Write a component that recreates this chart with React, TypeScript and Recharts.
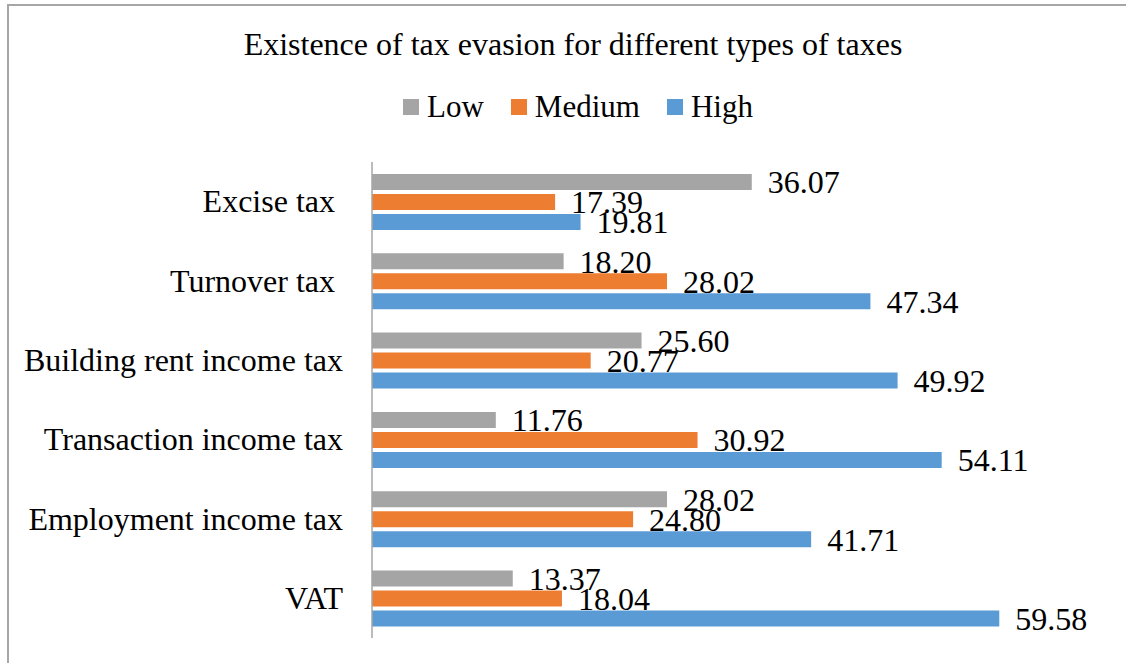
import React from 'react';
import { BarChart, Bar, XAxis, YAxis, LabelList } from 'recharts';

const categories = ['Excise tax ', 'Turnover tax ', 'Building rent income tax', 'Transaction income tax', 'Employment income tax', 'VAT'];
const lowValues = [36.07, 18.2, 25.6, 11.76, 28.02, 13.37];
const mediumValues = [17.39, 28.02, 20.77, 30.92, 24.8, 18.04];
const highValues = [19.81, 47.34, 49.92, 54.11, 41.71, 59.58];

const series = [
    { key: 'low', label: 'Low', color: '#A5A5A5' },
    { key: 'medium', label: 'Medium', color: '#ED7D31' },
    { key: 'high', label: 'High', color: '#5B9BD5' },
];

const data = categories.map((name, i) => ({
    name,
    low: lowValues[i],
    medium: mediumValues[i],
    high: highValues[i],
}));

const FONT = '"Liberation Serif", "Times New Roman", serif';
const FS = 32;

const CategoryTick = (props: any) => {
    const { x, y, payload } = props;
    return (
        <text
            x={x}
            y={y}
            dy="0.33em"
            textAnchor="end"
            fill="#000"
            fontSize={FS}
            fontFamily={FONT}
            style={{ whiteSpace: 'pre' }}
        >
            {payload.value}
        </text>
    );
};

export default function App() {
    return (
        <div style={{ position: 'absolute', left: 0, top: 0, width: 1126, height: 663, overflow: 'hidden', background: '#fff' }}>
            <div
                style={{
                    position: 'absolute',
                    left: 7,
                    top: 4,
                    width: 1119,
                    height: 659,
                    borderTop: '2px solid #A6A6A6',
                    borderLeft: '2px solid #A6A6A6',
                    boxSizing: 'border-box',
                }}
            />
            <div
                style={{
                    position: 'absolute',
                    left: 0,
                    top: 26,
                    width: 1146,
                    textAlign: 'center',
                    fontFamily: FONT,
                    fontSize: FS,
                    lineHeight: '36px',
                    color: '#000',
                }}
            >
                Existence of tax evasion for different types of taxes
            </div>
            <div
                style={{
                    position: 'absolute',
                    left: 403,
                    top: 89,
                    display: 'flex',
                    alignItems: 'center',
                    fontFamily: FONT,
                    fontSize: 31,
                    lineHeight: '36px',
                    color: '#000',
                }}
            >
                {series.map((s) => (
                    <div key={s.key} style={{ display: 'flex', alignItems: 'center', marginRight: 27 }}>
                        <span style={{ display: 'inline-block', width: 16, height: 16, background: s.color, marginRight: 8 }} />
                        {s.label}
                    </div>
                ))}
            </div>
            <div style={{ position: 'absolute', left: 0, top: 0 }}>
                <BarChart
                    width={1126}
                    height={663}
                    data={data}
                    layout="vertical"
                    margin={{ top: 162, right: 17, bottom: 25, left: 0 }}
                    barGap={4}
                    barCategoryGap="15%"
                >
                    <XAxis type="number" domain={[0, 70]} hide />
                    <YAxis
                        type="category"
                        dataKey="name"
                        width={372}
                        tickLine={false}
                        tickSize={0}
                        tickMargin={29}
                        axisLine={{ stroke: '#A6A6A6', strokeWidth: 1.5 }}
                        tick={<CategoryTick />}
                        interval={0}
                    />
                    {series.map((s) => (
                        <Bar key={s.key} dataKey={s.key} name={s.label} fill={s.color} isAnimationActive={false}>
                            <LabelList
                                dataKey={s.key}
                                position="right"
                                offset={16}
                                formatter={(v: any) => Number(v).toFixed(2)}
                                fill="#000"
                                fontSize={FS}
                                fontFamily={FONT}
                            />
                        </Bar>
                    ))}
                </BarChart>
            </div>
        </div>
    );
}
